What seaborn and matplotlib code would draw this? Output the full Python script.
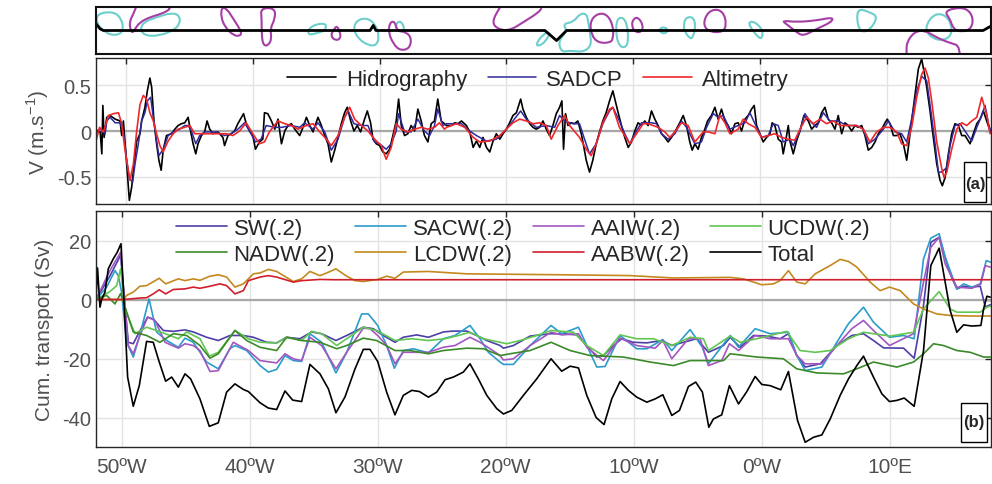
import numpy as np
import pandas as pd
import matplotlib
matplotlib.use("Agg")
import matplotlib.pyplot as plt
from matplotlib.patches import Rectangle, PathPatch
from matplotlib.path import Path
import seaborn as sns

# ---------------- axis text ----------------
LON_TICKS = [-50, -40, -30, -20, -10, 0, 10]
LON_LABELS = ["50ºW", "40ºW", "30ºW", "20ºW", "10ºW", "0ºW", "10ºE"]
V_TICKS = [-0.5, 0, 0.5]
V_LABELS = ["-0.5", "0", "0.5"]
T_TICKS = [-40, -20, 0, 20]
T_LABELS = ["-40", "-20", "0", "20"]

# ---------------- panel (a): velocity (lon, V m/s) ----------------
HYDRO = [(-52.36, -0.01), (-52.04, -0.01), (-51.91, -0.25), (-51.83, 0.28), (-51.73, -0.07), (-51.52, 0.15),
         (-51.26, 0.17), (-50.86, 0.13), (-50.47, 0.11), (-50.34, -0.05), (-50.21, 0.11), (-49.95, -0.36),
         (-49.74, -0.76), (-49.55, -0.61), (-49.42, -0.43), (-49.16, -0.11), (-48.90, -0.03), (-48.77, 0.11),
         (-48.51, 0.26), (-48.32, 0.44), (-48.12, 0.58), (-47.98, 0.48), (-47.80, 0.11), (-47.59, -0.14),
         (-47.41, -0.32), (-47.23, -0.43), (-47.07, -0.21), (-46.81, -0.05), (-46.41, -0.03), (-46.15, 0.02),
         (-45.89, 0.06), (-45.63, 0.08), (-45.37, 0.09), (-45.10, 0.15), (-44.97, 0.04), (-44.71, -0.14),
         (-44.50, -0.25), (-44.32, -0.14), (-44.06, -0.05), (-43.80, -0.01), (-43.61, 0.11), (-43.40, 0.02),
         (-43.14, -0.03), (-42.75, -0.01), (-42.36, -0.07), (-42.23, -0.16), (-41.96, -0.05), (-41.70, -0.03),
         (-41.44, 0.0), (-41.18, 0.08), (-40.73, 0.19), (-40.52, 0.08), (-40.26, 0.0), (-40.00, -0.05),
         (-39.79, -0.20), (-39.48, -0.12), (-39.21, -0.09), (-39.08, 0.20), (-38.82, 0.19), (-38.53, 0.11),
         (-38.27, 0.02), (-38.01, 0.13), (-37.74, -0.14), (-37.48, 0.0), (-37.22, 0.06), (-36.96, 0.08),
         (-36.69, 0.02), (-36.30, -0.05), (-36.04, 0.04), (-35.77, 0.15), (-35.51, 0.06), (-35.25, -0.01),
         (-34.86, 0.15), (-34.59, 0.06), (-34.33, -0.05), (-34.07, -0.14), (-33.81, -0.34), (-33.54, -0.21),
         (-33.28, -0.07), (-33.02, 0.08), (-32.76, 0.20), (-32.55, 0.26), (-32.28, 0.11), (-32.02, 0.0),
         (-31.76, 0.06), (-31.50, -0.01), (-31.23, 0.11), (-30.97, 0.22), (-30.71, 0.09), (-30.52, -0.09),
         (-30.26, -0.14), (-30.00, -0.16), (-29.74, -0.23), (-29.48, -0.25), (-29.21, -0.20), (-28.95, -0.05),
         (-28.69, 0.11), (-28.50, 0.35), (-28.29, 0.06), (-28.03, -0.05), (-27.77, -0.03), (-27.51, 0.06),
         (-27.24, 0.0), (-26.98, 0.24), (-26.72, 0.11), (-26.46, -0.05), (-26.19, -0.12), (-25.93, 0.08),
         (-25.67, 0.11), (-25.41, 0.35), (-25.14, 0.11), (-24.72, 0.06), (-24.33, 0.06), (-24.07, 0.09),
         (-23.81, 0.08), (-23.54, 0.11), (-23.15, 0.06), (-22.89, -0.01), (-22.62, -0.18), (-22.36, -0.11),
         (-22.10, -0.18), (-21.84, -0.07), (-21.57, -0.18), (-21.31, -0.23), (-21.05, -0.11), (-20.79, -0.03),
         (-20.52, -0.09), (-20.26, -0.03), (-20.00, 0.02), (-19.74, 0.09), (-19.48, 0.17), (-19.21, 0.20),
         (-18.87, 0.35), (-18.69, 0.24), (-18.43, 0.15), (-18.16, 0.08), (-17.90, 0.04), (-17.64, 0.02),
         (-17.38, 0.04), (-17.11, 0.11), (-16.85, 0.02), (-16.59, -0.05), (-16.33, 0.06), (-16.06, 0.19),
         (-15.80, 0.26), (-15.62, 0.33), (-15.49, -0.20), (-15.33, 0.19), (-15.14, 0.06), (-14.88, 0.09),
         (-14.62, 0.08), (-14.36, 0.11), (-14.09, -0.03), (-13.88, -0.18), (-13.70, -0.32), (-13.44, -0.45),
         (-13.18, -0.32), (-12.91, -0.14), (-12.65, -0.01), (-12.39, 0.11), (-12.13, 0.20), (-11.86, 0.33),
         (-11.60, 0.44), (-11.34, 0.29), (-11.18, 0.20), (-10.92, 0.06), (-10.66, -0.07), (-10.39, -0.18),
         (-10.13, -0.12), (-9.87, 0.0), (-9.61, 0.09), (-9.34, 0.06), (-9.08, 0.11), (-8.82, 0.06),
         (-8.55, 0.22), (-8.29, 0.13), (-8.03, 0.06), (-7.76, -0.03), (-7.50, -0.07), (-7.24, -0.12),
         (-6.97, -0.07), (-6.71, -0.01), (-6.32, 0.09), (-6.05, 0.17), (-5.79, 0.06), (-5.53, -0.12),
         (-5.34, -0.21), (-5.13, -0.14), (-4.87, -0.20), (-4.61, -0.07), (-4.39, 0.0), (-4.13, 0.11),
         (-3.82, 0.17), (-3.55, 0.26), (-3.29, 0.13), (-3.03, 0.24), (-2.76, 0.11), (-2.50, 0.06),
         (-2.24, -0.03), (-1.97, 0.08), (-1.71, 0.09), (-1.45, 0.0), (-1.18, 0.13), (-0.92, 0.17),
         (-0.66, 0.24), (-0.45, 0.28), (-0.26, 0.06), (0.00, -0.03), (0.26, -0.12), (0.53, -0.07),
         (0.79, -0.03), (0.97, 0.09), (1.18, 0.06), (1.45, -0.09), (1.71, -0.12), (1.84, -0.25),
         (2.03, -0.11), (2.24, 0.06), (2.37, -0.11), (2.63, -0.25), (2.89, -0.11), (3.16, 0.0),
         (3.47, 0.17), (3.82, 0.11), (4.08, 0.02), (4.34, 0.06), (4.61, 0.09), (4.87, 0.20),
         (5.13, 0.26), (5.39, 0.13), (5.66, 0.09), (5.92, 0.02), (6.18, 0.17), (6.45, -0.03),
         (6.71, 0.09), (6.97, 0.06), (7.24, 0.0), (7.50, 0.06), (7.76, 0.04), (8.03, 0.06),
         (8.29, -0.05), (8.55, -0.21), (8.82, -0.18), (9.08, -0.12), (9.34, -0.03), (9.61, 0.02),
         (9.87, 0.09), (10.05, 0.13), (10.26, 0.08), (10.53, -0.05), (10.79, -0.05), (11.05, -0.03),
         (11.32, -0.14), (11.58, -0.32), (11.71, -0.18), (11.97, 0.11), (12.24, 0.40), (12.50, 0.68),
         (12.76, 0.79), (13.03, 0.59), (13.16, 0.48), (13.42, 0.22), (13.68, -0.07), (13.95, -0.36),
         (14.21, -0.54), (14.39, -0.60), (14.61, -0.51), (14.87, -0.25), (15.13, -0.03), (15.39, 0.08),
         (15.66, 0.06), (15.92, -0.05), (16.18, -0.05), (16.58, -0.14), (16.84, -0.03), (17.11, 0.08),
         (17.37, 0.13), (17.63, 0.22), (17.89, 0.11), (18.16, 0.0)]

SADCP = [(-52.36, 0.0), (-52.04, 0.02), (-51.65, -0.03), (-51.52, 0.11), (-51.26, 0.15), (-50.86, 0.09),
         (-50.47, 0.09), (-50.21, -0.01), (-49.95, -0.32), (-49.74, -0.52), (-49.48, -0.56), (-49.29, -0.36),
         (-49.03, -0.14), (-48.77, 0.11), (-48.51, 0.20), (-48.32, 0.33), (-48.06, 0.37), (-47.85, 0.15),
         (-47.59, -0.11), (-47.41, -0.27), (-47.07, -0.20), (-46.68, -0.05), (-46.28, -0.01), (-45.76, 0.02),
         (-45.37, 0.06), (-45.10, 0.06), (-44.84, 0.0), (-44.50, -0.14), (-44.19, -0.05), (-43.80, -0.01),
         (-43.40, -0.01), (-42.88, -0.01), (-42.23, -0.05), (-41.70, -0.03), (-41.18, 0.02), (-40.65, 0.09),
         (-40.26, 0.0), (-39.79, -0.12), (-39.35, -0.09), (-38.95, 0.06), (-38.27, 0.04), (-37.74, 0.04),
         (-36.96, 0.06), (-36.30, 0.04), (-35.91, 0.09), (-35.25, 0.02), (-34.86, 0.09), (-34.33, -0.01),
         (-33.81, -0.21), (-33.28, -0.09), (-32.76, 0.15), (-32.49, 0.22), (-32.02, 0.08), (-31.44, 0.06),
         (-30.92, 0.06), (-30.39, -0.12), (-30.00, -0.14), (-29.48, -0.20), (-29.08, -0.14), (-28.69, 0.0),
         (-28.50, 0.19), (-28.03, -0.01), (-27.51, -0.01), (-26.98, 0.13), (-26.46, 0.0), (-26.06, -0.05),
         (-25.67, 0.06), (-25.41, 0.24), (-25.01, 0.06), (-24.72, 0.08), (-24.07, 0.08), (-23.54, 0.08),
         (-22.89, 0.0), (-22.36, -0.05), (-21.57, -0.11), (-20.79, -0.09), (-20.00, 0.02), (-19.48, 0.11),
         (-18.87, 0.22), (-18.43, 0.13), (-17.64, 0.04), (-16.85, 0.06), (-16.19, 0.04), (-15.80, 0.17),
         (-15.41, 0.11), (-14.75, 0.08), (-14.23, 0.08), (-13.88, -0.07), (-13.44, -0.25), (-12.91, -0.14),
         (-12.39, 0.08), (-11.86, 0.22), (-11.60, 0.26), (-11.08, 0.11), (-10.66, -0.03), (-10.26, -0.14),
         (-9.87, -0.03), (-9.34, 0.09), (-8.55, 0.09), (-8.16, 0.08), (-7.76, -0.03), (-7.24, -0.09),
         (-6.71, -0.03), (-6.18, 0.11), (-5.79, 0.04), (-5.13, -0.14), (-4.61, -0.12), (-4.21, 0.04),
         (-3.68, 0.19), (-3.29, 0.15), (-2.89, 0.17), (-2.37, 0.02), (-1.71, 0.06), (-1.18, 0.09),
         (-0.79, 0.20), (-0.39, 0.08), (0.13, -0.07), (0.66, -0.05), (1.05, 0.08), (1.45, 0.06),
         (1.84, -0.12), (2.37, -0.09), (2.63, -0.16), (3.16, 0.0), (3.55, 0.19), (3.95, 0.11),
         (4.47, 0.04), (5.00, 0.20), (5.53, 0.11), (6.18, 0.11), (6.84, 0.06), (7.63, 0.06),
         (8.16, 0.02), (8.55, -0.14), (9.08, -0.09), (9.74, 0.02), (10.13, 0.11), (10.66, -0.01),
         (11.18, -0.03), (11.58, -0.12), (11.97, 0.13), (12.37, 0.44), (12.76, 0.60), (13.16, 0.55),
         (13.42, 0.29), (13.82, -0.14), (14.08, -0.45), (14.34, -0.45), (14.74, -0.40), (15.00, -0.16),
         (15.39, 0.06), (15.79, 0.08), (16.32, -0.03), (16.71, -0.11), (17.11, 0.04), (17.50, 0.17),
         (17.76, 0.28), (18.03, 0.08), (18.23, -0.01)]

ALTIM = [(-52.37, -0.11), (-52.09, 0.04), (-51.78, -0.01), (-51.39, 0.17), (-50.99, 0.19), (-50.60, 0.20),
         (-50.34, 0.08), (-50.08, -0.21), (-49.69, -0.54), (-49.42, -0.36), (-49.16, 0.0), (-48.90, 0.29),
         (-48.64, 0.39), (-48.38, 0.35), (-48.12, 0.20), (-47.85, 0.11), (-47.59, -0.03), (-47.33, -0.16),
         (-47.07, -0.23), (-46.68, -0.11), (-46.28, -0.03), (-45.89, 0.02), (-45.37, 0.04), (-44.97, 0.06),
         (-44.58, -0.03), (-44.19, -0.03), (-43.66, -0.03), (-43.14, -0.03), (-42.62, -0.03), (-42.09, -0.03),
         (-41.57, -0.05), (-41.05, 0.0), (-40.52, 0.09), (-40.00, -0.03), (-39.48, -0.14), (-39.08, -0.12),
         (-38.69, -0.01), (-38.53, 0.02), (-38.01, 0.11), (-37.48, 0.08), (-36.96, 0.06), (-36.43, 0.02),
         (-35.77, 0.06), (-35.25, 0.08), (-34.72, -0.01), (-34.20, -0.09), (-33.81, -0.16), (-33.28, -0.05),
         (-32.76, 0.15), (-32.36, 0.26), (-31.97, 0.13), (-31.44, 0.06), (-30.92, 0.0), (-30.39, -0.09),
         (-29.87, -0.16), (-29.48, -0.31), (-29.08, -0.18), (-28.69, 0.08), (-28.29, 0.02), (-27.77, -0.01),
         (-27.24, 0.02), (-26.72, 0.04), (-26.19, 0.02), (-25.67, 0.04), (-25.28, 0.09), (-24.88, 0.02),
         (-24.72, 0.04), (-23.94, 0.08), (-23.28, 0.04), (-22.62, -0.07), (-22.10, -0.12), (-21.31, -0.11),
         (-20.52, -0.05), (-20.00, 0.02), (-19.48, 0.09), (-18.95, 0.13), (-18.43, 0.11), (-17.90, 0.08),
         (-17.38, 0.09), (-16.85, 0.06), (-16.46, -0.09), (-15.93, 0.06), (-15.41, 0.17), (-15.01, 0.06),
         (-14.23, -0.07), (-13.70, -0.20), (-13.31, -0.27), (-12.91, -0.14), (-12.39, 0.09), (-11.86, 0.24),
         (-11.60, 0.26), (-11.08, 0.04), (-10.66, -0.05), (-10.26, -0.14), (-9.74, -0.03), (-9.21, 0.08),
         (-8.82, 0.08), (-8.03, 0.04), (-7.50, -0.01), (-7.11, -0.07), (-6.71, -0.01), (-6.18, 0.09),
         (-5.66, 0.06), (-5.13, -0.12), (-4.47, -0.01), (-4.08, -0.01), (-3.55, -0.03), (-3.16, 0.17),
         (-2.76, 0.09), (-2.37, -0.03), (-1.71, 0.02), (-1.32, 0.13), (-0.92, 0.08), (-0.39, 0.04),
         (0.13, -0.07), (0.66, -0.05), (1.18, -0.03), (1.71, -0.07), (2.24, -0.09), (2.76, -0.10),
         (3.16, 0.02), (3.68, 0.15), (4.21, 0.08), (4.74, 0.13), (5.26, 0.08), (5.79, 0.11),
         (6.32, 0.06), (6.97, 0.06), (7.63, 0.06), (8.16, 0.02), (8.68, -0.12), (9.21, -0.01),
         (9.74, 0.04), (10.26, 0.04), (10.79, -0.01), (11.18, -0.14), (11.58, -0.16), (11.97, 0.04),
         (12.37, 0.37), (12.76, 0.62), (13.03, 0.69), (13.29, 0.58), (13.55, 0.33), (13.95, -0.12),
         (14.34, -0.41), (14.53, -0.51), (14.74, -0.45), (15.13, -0.20), (15.53, 0.02), (15.92, 0.09),
         (16.32, 0.06), (16.71, 0.11), (17.11, 0.15), (17.50, 0.37), (17.89, 0.18), (18.16, -0.03)]

# ---------------- panel (b): cumulative transport (lon, Sv) ----------------
SW = [(-52.0, 0), (-50.91, 8), (-50.08, 15), (-49.48, -14.5), (-49.09, -15), (-48.62, -11), (-47.97, -6),
      (-47.53, -6.6), (-46.74, -10.5), (-45.96, -10.8), (-45.05, -10.3), (-44.40, -11), (-43.36, -12.8),
      (-42.45, -13.9), (-41.54, -12.2), (-40.49, -12.2), (-39.71, -12.8), (-38.67, -14.5), (-37.89, -14.7),
      (-37.11, -12.8), (-36.07, -13.3), (-35.16, -11), (-34.38, -11.6), (-33.26, -13.9), (-32.42, -12.2),
      (-31.12, -9.4), (-30.34, -9.9), (-29.56, -12.2), (-28.65, -14.5), (-28.0, -12.8), (-26.95, -12),
      (-26.04, -12.8), (-24.87, -11), (-24.09, -10.7), (-23.05, -10.7), (-22.27, -12.2), (-21.48, -13.9),
      (-20.44, -15.6), (-20.18, -16.5), (-19.40, -15.6), (-18.10, -12.4), (-16.54, -11.6), (-15.49, -11.6),
      (-14.45, -12), (-13.67, -15.6), (-12.89, -19.5), (-12.37, -19), (-11.59, -15.6), (-10.94, -13.3),
      (-10.03, -14.5), (-8.98, -14.7), (-7.81, -13.9), (-7.03, -15.6), (-6.12, -14.5), (-5.08, -13.3),
      (-4.17, -17.9), (-2.99, -15.6), (-2.47, -12.8), (-1.69, -16.2), (-0.65, -12.2), (0.39, -12.4),
      (1.43, -13.3), (2.08, -11.6), (2.73, -19), (3.39, -22.9), (4.56, -21.8), (5.86, -15.6), (7.03, -12.2),
      (7.94, -11.6), (8.72, -13.9), (9.51, -16.4), (11.07, -16.5), (11.90, -19.9), (12.63, -2), (13.20, 19.4),
      (13.85, 21.1), (14.71, 8.7), (15.23, 3.6), (15.76, 4.5), (16.41, 4.2), (17.06, 4.5), (17.45, -2.5),
      (17.84, -1.8)]

SACW = [(-52.0, 0), (-51.17, 4.2), (-50.52, 9.8), (-50.26, 8.1), (-50.0, 2.5), (-49.61, -14.5), (-49.09, -19.5),
        (-48.57, -12), (-47.86, 0.2), (-47.27, -11), (-46.48, -13.9), (-45.57, -16.2), (-45.05, -13.1),
        (-44.40, -14.5), (-43.36, -21.2), (-42.45, -23.5), (-41.54, -16.7), (-41.15, -15.6), (-40.23, -17.3),
        (-39.19, -22.4), (-38.54, -24.6), (-37.89, -23.7), (-37.24, -19), (-36.59, -20.7), (-35.94, -21),
        (-35.29, -11.6), (-34.38, -14.5), (-33.26, -24.9), (-32.42, -17.9), (-31.25, -4.9), (-30.73, -4.9),
        (-30.0, -8.8), (-29.30, -15.6), (-28.70, -23.3), (-28.0, -17.3), (-27.21, -16.7), (-26.04, -18.1),
        (-24.87, -13.3), (-23.96, -12.2), (-22.79, -8.8), (-22.01, -13.3), (-21.35, -17.9), (-20.44, -21.2),
        (-20.18, -22), (-19.40, -22), (-18.10, -15.6), (-16.46, -8.8), (-15.63, -11.6), (-14.32, -9.4),
        (-13.67, -15.6), (-12.89, -22.9), (-12.24, -22.7), (-11.07, -12.2), (-9.77, -16.7), (-8.98, -16.7),
        (-7.73, -13.6), (-7.03, -17.3), (-5.60, -10.2), (-4.64, -16.2), (-4.17, -21.8), (-2.47, -12.2),
        (-1.82, -16.2), (-0.52, -9.9), (0.65, -11.6), (2.08, -11.1), (2.73, -19), (3.39, -24.1), (4.69, -22.9),
        (5.86, -14.5), (6.77, -8.2), (7.94, -2.6), (8.72, -7.7), (9.97, -12.8), (11.07, -12.2), (11.90, -13.3),
        (12.63, 13.8), (13.20, 20.8), (13.85, 22.3), (14.32, 14.4), (15.23, 3.6), (15.76, 5.3), (16.41, 4.2),
        (17.06, 5.3), (17.53, 13.2), (17.84, 12.7)]

AAIW = [(-52.0, 0), (-50.91, 9.8), (-50.08, 16), (-49.48, -15.6), (-49.09, -18.4), (-48.57, -12.2), (-47.97, -6),
        (-47.40, -7.1), (-46.61, -14.5), (-45.57, -16.5), (-45.05, -15), (-44.40, -15.6), (-43.88, -17.3),
        (-43.10, -24.4), (-42.45, -24.1), (-41.28, -14.5), (-40.10, -17.3), (-39.19, -20.7), (-37.89, -21.5),
        (-37.24, -18.4), (-36.59, -20.1), (-35.94, -20.7), (-35.29, -12.8), (-34.38, -15.6), (-33.26, -23.5),
        (-32.42, -17.9), (-31.12, -9.7), (-30.60, -9.9), (-30.0, -12.2), (-29.30, -15.6), (-28.65, -21.8),
        (-28.0, -17.9), (-26.74, -17.9), (-26.04, -17.9), (-24.87, -16.2), (-23.96, -15.6), (-22.79, -12.8),
        (-22.01, -14.5), (-21.22, -16.7), (-20.44, -19), (-20.18, -20.5), (-19.40, -20.1), (-18.10, -15.6),
        (-16.46, -11.1), (-15.63, -12), (-14.32, -11.6), (-13.67, -16.2), (-12.37, -20.7), (-11.07, -13.1),
        (-9.77, -15.6), (-8.33, -16.5), (-7.73, -13.9), (-7.03, -20.1), (-5.73, -13.3), (-4.82, -13.3),
        (-4.17, -22.4), (-3.13, -20.7), (-2.53, -15), (-1.82, -17.3), (-0.52, -12.2), (0.65, -13.3),
        (2.08, -13.3), (2.73, -19), (3.39, -21.8), (4.69, -21.8), (5.86, -15.6), (7.03, -9.9), (7.94, -7.1),
        (8.72, -10.5), (9.97, -15.6), (11.85, -11.6), (12.63, 5.9), (13.20, 17.7), (13.85, 21.1), (14.32, 12.1),
        (15.23, 4.2), (16.41, 3.8), (17.11, 5.3), (17.45, 11.5), (17.84, 11)]

UCDW = [(-52.0, 0), (-50.91, 2.7), (-50.39, 4.7), (-50.08, 10.4), (-49.74, -3.2), (-49.48, -6), (-48.96, -11.6),
        (-48.05, -9.4), (-47.27, -10.5), (-46.22, -12.2), (-45.57, -13.3), (-44.92, -11), (-43.88, -13.3),
        (-43.15, -19.2), (-42.45, -17.9), (-41.15, -10.5), (-40.10, -13.3), (-39.19, -14.5), (-37.89, -14.7),
        (-37.11, -12.8), (-35.94, -13.9), (-35.16, -10.8), (-34.38, -11.6), (-33.20, -15.6), (-32.42, -13.3),
        (-31.12, -9.4), (-30.08, -10.5), (-28.65, -13.9), (-27.34, -13.3), (-26.04, -13.9), (-24.74, -13.3),
        (-23.70, -12.2), (-22.79, -11.1), (-21.74, -13.3), (-20.44, -14.5), (-19.92, -15), (-18.88, -13.9),
        (-17.58, -12.2), (-16.46, -10.5), (-14.71, -11.1), (-13.67, -15.6), (-12.37, -19), (-11.07, -12),
        (-9.77, -13.3), (-8.46, -13.3), (-7.03, -15.6), (-5.60, -12.8), (-4.56, -13.3), (-4.17, -17.3),
        (-2.47, -12.4), (-1.69, -14.5), (-0.39, -13.3), (1.95, -10.8), (2.99, -17.3), (4.17, -17.9),
        (5.34, -17.3), (6.77, -13.3), (7.94, -11.1), (10.03, -12.4), (11.85, -11.1), (12.63, -3.2),
        (13.85, 2.7), (14.71, -3.2), (15.23, -4.3), (17.06, -4.3), (17.58, -2.6), (17.84, -2.3)]

NADW = [(-52.0, 0), (-51.17, 1.4), (-50.52, -1.5), (-50.08, 2.0), (-49.09, -11), (-48.05, -12.2), (-47.01, -14.5),
        (-45.96, -11.6), (-44.92, -12.2), (-43.88, -15.6), (-43.10, -19.9), (-42.45, -18.4), (-41.15, -10.5),
        (-40.23, -13.9), (-39.19, -16.2), (-37.89, -17.3), (-37.11, -12.8), (-35.94, -13.9), (-34.51, -14.5),
        (-33.20, -16.7), (-32.42, -15.6), (-31.12, -13.1), (-30.08, -13.9), (-28.65, -17.3), (-27.47, -17.3),
        (-26.04, -18.4), (-24.87, -17.3), (-23.05, -16.5), (-21.74, -16.7), (-20.44, -19), (-19.66, -18.4),
        (-18.10, -17.3), (-16.46, -14.5), (-14.97, -17.3), (-13.41, -19), (-10.81, -19.5), (-8.72, -21.2),
        (-6.90, -22.4), (-5.60, -20.7), (-2.99, -20.7), (-2.47, -18.4), (-0.39, -19.5), (1.69, -20.1),
        (2.73, -23.5), (4.30, -24.9), (6.38, -25.2), (7.42, -23.5), (8.72, -21.2), (10.55, -22.9),
        (11.85, -21.2), (12.63, -18.4), (13.41, -15), (14.19, -15.6), (15.23, -17.3), (16.28, -17.9),
        (17.32, -19.5), (17.84, -19.5)]

LCDW = [(-52.0, 0), (-49.82, 0), (-49.61, 1.4), (-49.09, 2.5), (-48.57, 4.5), (-48.05, 4.7), (-47.06, 7.2),
        (-46.56, 5.3), (-45.57, 7.0), (-45.05, 6.4), (-44.40, 7.0), (-43.88, 6.5), (-43.10, 7.9), (-42.45, 8.4),
        (-41.80, 7.6), (-41.15, 4.2), (-40.49, 5.3), (-39.71, 8.7), (-39.19, 9.0), (-38.54, 10.2), (-37.89, 9.5),
        (-36.59, 6.1), (-35.94, 7.0), (-35.29, 9.5), (-34.51, 8.1), (-33.98, 9.0), (-33.26, 10.4), (-32.42, 7.9),
        (-31.77, 6.4), (-31.12, 6.1), (-30.0, 6.8), (-29.30, 7.9), (-28.65, 7.2), (-28.0, 9.3), (-26.04, 9.5),
        (-23.05, 8.7), (-16.02, 8.4), (-10.29, 8.1), (-6.90, 7.3), (-2.47, 7.5), (-1.43, 7.0), (0.0, 5.0),
        (0.91, 5.3), (1.43, 6.4), (2.08, 9.8), (2.73, 5.9), (3.39, 5.3), (4.17, 8.7), (5.34, 11.5), (6.12, 13.6),
        (6.77, 12.9), (7.42, 11.0), (8.46, 5.9), (9.24, 3.0), (9.97, 4.2), (10.81, 3.0), (11.85, -1.5),
        (12.63, -3.2), (13.67, -4.9), (14.71, -5.4), (16.28, -5.6), (17.84, -5.6)]

AABW = [(-52.0, 0), (-49.82, 0), (-48.57, 0.5), (-48.05, 0.6), (-47.53, 1.9), (-47.06, 3.3), (-46.56, 1.9),
        (-45.96, 3.4), (-45.05, 3.6), (-44.40, 4.2), (-43.88, 3.8), (-43.10, 4.5), (-42.32, 5.3), (-41.80, 4.7),
        (-41.15, 1.9), (-40.49, 3.0), (-40.10, 6.4), (-39.19, 7.6), (-38.54, 8.1), (-37.89, 7.6), (-36.59, 5.9),
        (-35.94, 6.4), (-34.51, 6.8), (-33.46, 6.7), (17.84, 6.7)]

TOTAL = [(-52.0, 0), (-51.88, 10.7), (-51.69, -2.6), (-51.56, 0), (-51.30, 2.5), (-51.04, 10.4), (-50.65, 13.8),
         (-50.34, 16.0), (-50.05, 18.9), (-49.82, 0), (-49.53, -26.3), (-49.09, -36.2), (-48.62, -29.2),
         (-48.05, -14.2), (-47.53, -14.5), (-47.06, -21.2), (-46.56, -27.7), (-46.09, -26.3), (-45.57, -29.7),
         (-45.05, -25.2), (-44.61, -26.9), (-43.88, -33.7), (-43.15, -43.0), (-42.45, -41.8), (-41.80, -31.4),
         (-41.15, -28.6), (-40.49, -30.5), (-40.10, -31.2), (-39.19, -35.0), (-38.54, -36.8), (-37.89, -37.3),
         (-37.24, -31.0), (-36.64, -34.1), (-35.94, -34.6), (-35.29, -22.0), (-34.51, -25.2), (-33.85, -30.3),
         (-33.26, -38.4), (-32.55, -33.0), (-31.77, -23.5), (-31.12, -16.9), (-30.60, -16.9), (-30.0, -21.0),
         (-29.30, -31.4), (-28.65, -39.1), (-28.0, -32.5), (-27.34, -30.8), (-26.74, -31.2), (-26.04, -33.1),
         (-25.39, -31.4), (-24.74, -27.2), (-24.09, -26.3), (-23.31, -24.6), (-22.79, -21.8), (-22.14, -26.9),
         (-21.48, -32.5), (-20.70, -37.0), (-20.18, -38.8), (-19.53, -37.6), (-18.62, -32.5), (-17.58, -26.9),
         (-16.46, -20.1), (-15.63, -24.3), (-14.97, -22.6), (-14.32, -23.2), (-13.67, -32.5), (-12.94, -40.0),
         (-12.32, -42.4), (-11.72, -33.7), (-11.07, -27.8), (-10.42, -30.8), (-9.77, -33.1), (-8.98, -34.8),
         (-8.33, -33.7), (-7.73, -32.3), (-7.03, -39.3), (-6.43, -37.6), (-5.73, -29.5), (-5.16, -28.0),
         (-4.64, -31.4), (-4.14, -43.3), (-3.78, -40.5), (-3.13, -39.1), (-2.53, -29.2), (-1.82, -35.4),
         (-1.17, -31.2), (-0.52, -26.1), (0.0, -28.8), (0.65, -29.2), (1.48, -30.6), (2.08, -24.4),
         (2.79, -41.0), (3.39, -48.4), (4.04, -46.7), (4.69, -45.9), (5.34, -40.5), (6.12, -32.5), (6.77, -26.9),
         (7.42, -22.4), (7.94, -19.2), (8.72, -26.3), (9.38, -32.0), (9.97, -34.6), (10.55, -34.2),
         (11.12, -33.4), (11.90, -36.2), (12.63, -17.3), (13.20, 11.5), (13.85, 17.4), (14.32, 5.9),
         (14.71, -3.7), (15.23, -11.1), (15.76, -8.6), (16.41, -9.0), (17.11, -8.8), (17.32, -3.2),
         (17.58, 1.1), (17.84, 0.8)]

# ---------------- top strip: ship track and eddy outlines (lon, relative lat) ----------------
TRACK = [(-52.37, 0.53), (-52.05, 0.13), (-51.79, 0.0), (-30.75, 0.0), (-30.50, 0.40), (-30.29, 0.0),
         (-16.96, 0.0), (-16.04, -0.79), (-15.25, 0.0), (17.61, 0.0), (18.23, 0.35)]

EDDY_CYC = [  # cyan outlines
    [(-52.31, 1.32), (-51.00, 1.50), (-50.34, 0.92), (-50.21, 0.0), (-50.60, -0.34), (-51.26, -0.34), (-51.79, 0.0), (-52.31, 0.53)],
    [(-48.90, 0.0), (-48.63, 0.66), (-47.58, 1.05), (-46.40, 1.40), (-45.79, 1.19), (-45.74, 0.53), (-46.27, 0.0), (-47.32, -0.39), (-48.37, -0.44)],
    [(-35.62, 0.13), (-34.96, 0.53), (-34.17, 0.53), (-34.31, 0.0), (-34.70, -0.13), (-35.62, -0.39)],
    [(-31.81, 0.79), (-31.02, 1.0), (-30.36, 0.53), (-30.02, -0.39), (-30.23, -1.18), (-30.89, -1.18), (-31.68, -0.65), (-32.07, 0.13)],
    [(-28.65, 0.66), (-28.26, 0.71), (-28.0, 0.0), (-28.39, -0.13), (-28.71, 0.13)],
    [(-17.74, -1.18), (-17.09, -0.26), (-16.56, -0.13), (-16.69, -0.52), (-17.22, -1.18)],
    [(-15.51, 0.53), (-14.72, 0.66), (-14.20, 1.32), (-13.67, 1.32), (-13.54, 0.66), (-13.41, -0.13), (-13.28, -1.18), (-13.93, -1.71), (-14.98, -1.57), (-15.64, -1.71), (-15.90, -0.92), (-15.51, -0.39), (-15.25, 0.0)],
    [(-11.30, 0.92), (-10.78, 1.05), (-10.46, 0.40), (-10.38, -0.65), (-10.52, -1.31), (-11.04, -1.31), (-11.36, -0.39)],
    [(-7.89, 0.19), (-7.49, 0.27), (-7.23, 0.0), (-7.49, -0.26), (-7.89, -0.13)],
    [(-5.78, 1.05), (-5.26, 1.05), (-5.07, 0.40), (-5.26, -0.52), (-5.52, -0.65), (-5.99, 0.0), (-5.99, 0.66)],
    [(-0.92, 0.66), (-0.40, 0.71), (0.26, 0.0), (0.13, -0.71), (-0.26, -0.39), (-0.66, 0.13)],
    [(7.62, 1.76), (8.68, 1.45), (9.33, 1.05), (8.54, -0.13), (7.75, 0.0)],
    [(13.14, 0.53), (13.80, 1.32), (14.59, 1.24), (15.11, 0.53), (15.11, -0.39), (14.46, -0.79), (13.67, -0.65), (13.14, -0.13)],
]
EDDY_ANT = [  # magenta outlines
    [(-42.46, 1.84), (-42.06, 1.71), (-41.53, 0.92), (-40.88, -0.13), (-41.01, -0.44), (-41.53, -0.39), (-42.19, 0.27), (-42.51, 1.05)],
    [(-39.38, 1.76), (-38.25, 1.76), (-38.25, 0.92), (-38.64, 0.13), (-38.51, -0.65), (-38.78, -1.18), (-39.17, -1.18), (-39.30, -0.39), (-39.30, 0.92)],
    [(-33.38, 0.40), (-33.12, -0.13), (-33.07, -0.65), (-33.52, -0.79), (-33.86, -0.39), (-33.65, 0.0)],
    [(-29.18, 0.66), (-28.79, 0.71), (-28.65, 0.0), (-27.87, -0.13), (-27.47, -0.65), (-27.66, -1.44), (-28.39, -1.57), (-28.92, -1.05), (-29.31, -0.13)],
    [(-13.41, 0.66), (-12.88, 1.32), (-12.09, 1.32), (-11.57, 0.40), (-11.57, -0.65), (-11.83, -0.97), (-12.75, -0.97), (-13.28, -0.39)],
    [(-9.99, 0.92), (-9.60, 1.05), (-9.20, 0.40), (-9.33, -0.13), (-9.86, -0.13), (-10.12, 0.40)],
    [(-4.21, 1.32), (-3.55, 1.71), (-2.89, 1.45), (-2.63, 0.53), (-2.89, -0.13), (-3.94, -0.13), (-4.47, 0.40)],
    [(1.71, 0.79), (2.89, 0.66), (4.47, 0.79), (5.78, 1.05), (5.65, 0.66), (4.47, 0.13), (3.42, -0.44), (2.89, -0.13), (2.23, 0.40)],
    [(14.59, 1.45), (15.25, 1.76), (16.30, 1.76), (16.83, 1.05), (16.69, 0.13), (15.90, -0.13), (15.25, 0.13), (14.99, 0.92)],
]
EDDY_ANT_OPEN = [  # magenta outlines cut by the strip edge
    [(-49.21, 1.84), (-49.42, 1.32), (-49.74, 0.66), (-49.63, 0.0), (-49.47, -0.18), (-49.29, 0.13), (-48.90, 0.66), (-48.11, 1.05), (-47.19, 1.32), (-46.53, 1.66), (-46.64, 1.84)],
    [(-20.50, 1.84), (-21.16, 0.66), (-20.64, 0.08), (-19.71, 0.0), (-18.66, 0.66), (-17.48, 1.40), (-17.22, 1.76)],
    [(11.57, -1.84), (11.57, -0.92), (12.22, -0.08), (13.01, 0.0), (13.67, -0.39), (14.46, -0.79), (15.25, -1.05), (15.64, -1.18), (15.77, -1.84)],
]

COLORS = {
    "Hidrography": "#000000", "SADCP": "#2e2a9a", "Altimetry": "#f0282a",
    "SW(.2)": "#4c3fa6", "SACW(.2)": "#2b9ccc", "AAIW(.2)": "#a257c0", "UCDW(.2)": "#62c653",
    "NADW(.2)": "#3b8a29", "LCDW(.2)": "#c4891e", "AABW(.2)": "#d01f2c", "Total": "#000000",
}
CYAN, MAGENTA = "#6ccfcc", "#a53ea6"

# ---------------- style ----------------
sns.set_style("white")
plt.rcParams["font.family"] = ["Liberation Sans", "DejaVu Sans"]
plt.rcParams["axes.unicode_minus"] = False

TICK_C = "#505050"
EDGE_C = "#262626"
GRID_C = "#e3e3e3"
ZERO_C = "#a8a8a8"

fig = plt.figure(figsize=(9.92, 4.85), dpi=100)
L, W = 96 / 992, 895 / 992
ax0 = fig.add_axes([L, 1 - 55 / 485, W, 47 / 485])
ax1 = fig.add_axes([L, 1 - 205 / 485, W, 146 / 485])
ax2 = fig.add_axes([L, 1 - 448 / 485, W, 236 / 485])

XLIM_A = (-52.37, 18.23)
XLIM_B = (-52.0, 17.9)


def frame(pairs, name):
    return pd.DataFrame(pairs, columns=["lon", "val"]).assign(series=name)


def smooth_outline(ax, pts, color, closed=True):
    """Outline through the read vertices' midpoints, using vertices as quadratic control points."""
    p = np.asarray(pts, dtype=float)
    if closed:
        mids = (p + np.roll(p, -1, axis=0)) / 2.0
        verts = [tuple(mids[-1])]
        codes = [Path.MOVETO]
        for i in range(len(p)):
            verts += [tuple(p[i]), tuple(mids[i])]
            codes += [Path.CURVE3, Path.CURVE3]
    else:
        mids = (p[:-1] + p[1:]) / 2.0
        verts = [tuple(p[0]), tuple(mids[0])]
        codes = [Path.MOVETO, Path.LINETO]
        for i in range(1, len(p) - 1):
            verts += [tuple(p[i]), tuple(mids[i])]
            codes += [Path.CURVE3, Path.CURVE3]
        verts.append(tuple(p[-1]))
        codes.append(Path.LINETO)
    ax.add_patch(PathPatch(Path(verts, codes), facecolor="none", edgecolor=color, lw=1.5))


def style_axes(ax):
    for s in ax.spines.values():
        s.set_color(EDGE_C)
        s.set_linewidth(1.0)
    ax.tick_params(direction="in", length=4, width=1, colors=EDGE_C,
                   top=True, right=True, labelcolor=TICK_C)
    ax.grid(True, color=GRID_C, linewidth=1.0)
    ax.set_axisbelow(True)


# ---- top strip ----
for poly in EDDY_CYC:
    smooth_outline(ax0, poly, CYAN)
for poly in EDDY_ANT:
    smooth_outline(ax0, poly, MAGENTA)
for poly in EDDY_ANT_OPEN:
    smooth_outline(ax0, poly, MAGENTA, closed=False)
dt = frame(TRACK, "track")
sns.lineplot(data=dt, x="lon", y="val", sort=False, estimator=None, color="black", lw=2.0, ax=ax0)
ax0.set_xlim(*XLIM_A)
ax0.set_ylim(-1.85, 1.85)
ax0.set_xticks([])
ax0.set_yticks([])
ax0.set_xlabel("")
ax0.set_ylabel("")
for s in ax0.spines.values():
    s.set_color("#111111")
    s.set_linewidth(1.5)

# ---- panel (a) ----
style_axes(ax1)
ax1.axhline(0, color=ZERO_C, lw=1.6, zorder=1.5)
for pairs, name, lw in [(HYDRO, "Hidrography", 1.2), (SADCP, "SADCP", 1.1), (ALTIM, "Altimetry", 1.2)]:
    sns.lineplot(data=frame(pairs, name), x="lon", y="val", sort=False, estimator=None,
                 color=COLORS[name], lw=lw, ax=ax1, label=name)
ax1.set_xlim(*XLIM_A)
ax1.set_ylim(-0.8, 0.8)
ax1.set_xticks(LON_TICKS)
ax1.set_xticklabels([])
ax1.set_yticks(V_TICKS)
ax1.set_yticklabels(V_LABELS, fontsize=14.5)
ax1.set_xlabel("")
ax1.set_ylabel("V (m.s$^{\\mathregular{-1}}$)", fontsize=15, color=TICK_C, labelpad=4)
h, l = ax1.get_legend_handles_labels()
ax1.legend(h, l, ncol=3, frameon=False, loc="center", bbox_to_anchor=(0.494, 0.856),
           fontsize=16, handlelength=2.2, handletextpad=0.45, columnspacing=0.9, borderaxespad=0)
ax1.add_patch(Rectangle((0.970, 0.014), 0.024, 0.274, transform=ax1.transAxes,
                        facecolor="white", edgecolor="black", lw=1.0, zorder=5))
ax1.text(0.982, 0.14, "(a)", transform=ax1.transAxes, ha="center", va="center",
         fontsize=12, fontweight="bold", zorder=6)

# ---- panel (b) ----
style_axes(ax2)
ax2.axhline(0, color=ZERO_C, lw=1.6, zorder=1.5)
series_b = [(SW, "SW(.2)"), (SACW, "SACW(.2)"), (AAIW, "AAIW(.2)"), (UCDW, "UCDW(.2)"),
            (NADW, "NADW(.2)"), (LCDW, "LCDW(.2)"), (AABW, "AABW(.2)"), (TOTAL, "Total")]
for pairs, name in series_b:
    sns.lineplot(data=frame(pairs, name), x="lon", y="val", sort=False, estimator=None,
                 color=COLORS[name], lw=1.2, ax=ax2, label=name)
ax2.set_xlim(*XLIM_B)
ax2.set_ylim(-50, 30)
ax2.set_xticks(LON_TICKS)
ax2.set_xticklabels(LON_LABELS, fontsize=15)
ax2.set_yticks(T_TICKS)
ax2.set_yticklabels(T_LABELS, fontsize=14.5)
ax2.tick_params(axis="x", pad=7)
ax2.set_xlabel("")
ax2.set_ylabel("Cum. transport (Sv)", fontsize=15, color=TICK_C, labelpad=6)
h, l = ax2.get_legend_handles_labels()
hd = dict(zip(l, h))
order = ["SW(.2)", "NADW(.2)", "SACW(.2)", "LCDW(.2)", "AAIW(.2)", "AABW(.2)", "UCDW(.2)", "Total"]
ax2.legend([hd[k] for k in order], order, ncol=4, frameon=False, loc="center",
           bbox_to_anchor=(0.477, 0.871), fontsize=16, handlelength=2.3, handletextpad=0.3,
           columnspacing=0.9, labelspacing=0.25, borderaxespad=0)
ax2.add_patch(Rectangle((0.967, 0.022), 0.028, 0.164, transform=ax2.transAxes,
                        facecolor="white", edgecolor="black", lw=1.0, zorder=5))
ax2.text(0.981, 0.108, "(b)", transform=ax2.transAxes, ha="center", va="center",
         fontsize=12, fontweight="bold", zorder=6)

fig.savefig("out.png", dpi=100)
